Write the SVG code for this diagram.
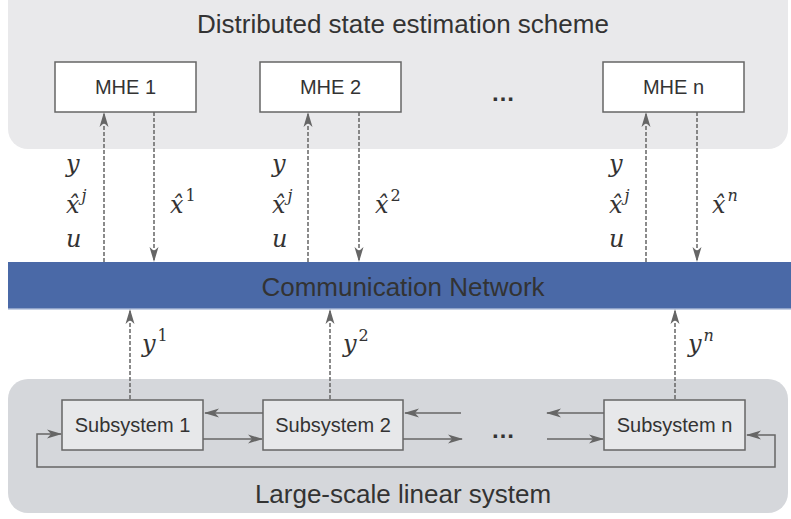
<svg xmlns="http://www.w3.org/2000/svg" width="791" height="519" viewBox="0 0 791 519">
<defs>
<style>
.panelTop{fill:#e9e9eb;}
.panelBot{fill:#d5d7db;}
.mhe{fill:#ffffff;stroke:#666666;stroke-width:1.5;}
.sub{fill:#e7e8ea;stroke:#666666;stroke-width:1.5;}
.big{font-family:"Liberation Sans",Arial,sans-serif;font-size:26px;fill:#333333;text-anchor:middle;}
.lbl{font-family:"Liberation Sans",Arial,sans-serif;font-size:20px;fill:#333333;text-anchor:middle;}
.dots{font-family:"Liberation Sans",Arial,sans-serif;font-size:24px;font-weight:bold;fill:#333333;text-anchor:middle;}
.math{font-family:"DejaVu Serif","Liberation Serif",serif;font-style:italic;font-size:24px;fill:#333333;}
.sup{font-size:16px;}
.supr{font-size:16px;font-style:normal;}
.dash{fill:none;stroke:#666666;stroke-width:1.5;stroke-dasharray:4 2;marker-end:url(#ah);}
.solid{fill:none;stroke:#666666;stroke-width:1.5;marker-end:url(#ah);}
</style>
<marker id="ah" markerUnits="userSpaceOnUse" viewBox="0 0 15 10" refX="14" refY="5" markerWidth="15" markerHeight="10" orient="auto">
<path d="M0,0.5 L15,5 L0,9.5 L4,5 z" fill="#666666"/>
</marker>
<marker id="ahs" markerUnits="userSpaceOnUse" viewBox="0 0 15 10" refX="14" refY="5" markerWidth="15" markerHeight="10" orient="auto-start-reverse">
<path d="M0,0.5 L15,5 L0,9.5 L4,5 z" fill="#666666"/>
</marker>
</defs>

<g id="panel-top">
<rect class="panelTop" x="8" y="-20" width="780" height="169" rx="20"/>
<text class="big" x="403" y="33">Distributed state estimation scheme</text>
</g>

<g id="panel-bottom">
<rect class="panelBot" x="8" y="379" width="780" height="134" rx="20"/>
<text class="big" x="403" y="503">Large-scale linear system</text>
</g>

<g id="network">
<rect x="8" y="262" width="783" height="47" fill="#4a69a7"/>
<rect x="8" y="308" width="783" height="1.5" fill="#8ea2c9"/>
<text class="big" x="403" y="296">Communication Network</text>
</g>

<g id="mhe1">
<rect class="mhe" x="55" y="62" width="141" height="50"/>
<text class="lbl" x="125.5" y="94">MHE 1</text>
</g>
<g id="mhe2">
<rect class="mhe" x="260" y="62" width="141" height="50"/>
<text class="lbl" x="330.5" y="94">MHE 2</text>
</g>
<g id="mhe-dots">
<text class="dots" x="503" y="101">…</text>
</g>
<g id="mhen">
<rect class="mhe" x="603" y="62" width="141" height="50"/>
<text class="lbl" x="673.5" y="94">MHE n</text>
</g>

<g id="sub1">
<rect class="sub" x="62" y="400" width="141" height="50"/>
<text class="lbl" x="132.5" y="432">Subsystem 1</text>
</g>
<g id="sub2">
<rect class="sub" x="263" y="400" width="140" height="50"/>
<text class="lbl" x="333" y="432">Subsystem 2</text>
</g>
<g id="sub-dots">
<text class="dots" x="503" y="438">…</text>
</g>
<g id="subn">
<rect class="sub" x="604" y="400" width="141" height="50"/>
<text class="lbl" x="674.5" y="432">Subsystem n</text>
</g>

<g id="connectors">
<path class="dash" d="M104,262 V113"/>
<path class="dash" d="M154,112 V261"/>
<path class="dash" d="M308,262 V113"/>
<path class="dash" d="M359,112 V261"/>
<path class="dash" d="M646,262 V113"/>
<path class="dash" d="M697,112 V261"/>
<path class="dash" d="M130,399 V310"/>
<path class="dash" d="M330,399 V310"/>
<path class="dash" d="M675,399 V310"/>
<path class="solid" d="M263,413 H205"/>
<path class="solid" d="M203,439 H262"/>
<path class="solid" d="M461,413 H405"/>
<path class="solid" d="M403,439 H462"/>
<path class="solid" d="M604,413 H547"/>
<path class="solid" d="M547,439 H603"/>
<path d="M61,434 H37 V467 H775 V435 H747" fill="none" stroke="#666666" stroke-width="1.5" marker-start="url(#ahs)" marker-end="url(#ah)"/>
</g>

<g id="labels">
<text class="math" x="66" y="172">y</text>
<text class="math" x="66" y="213">x̂<tspan class="sup" dx="2" dy="-12">j</tspan></text>
<text class="math" x="66" y="247">u</text>
<text class="math" x="170" y="213">x̂<tspan class="supr" dx="2" dy="-12">1</tspan></text>

<text class="math" x="272" y="172">y</text>
<text class="math" x="272" y="213">x̂<tspan class="sup" dx="2" dy="-12">j</tspan></text>
<text class="math" x="272" y="247">u</text>
<text class="math" x="375" y="213">x̂<tspan class="supr" dx="2" dy="-12">2</tspan></text>

<text class="math" x="609" y="172">y</text>
<text class="math" x="609" y="213">x̂<tspan class="sup" dx="2" dy="-12">j</tspan></text>
<text class="math" x="609" y="247">u</text>
<text class="math" x="712" y="213">x̂<tspan class="sup" dx="2" dy="-12">n</tspan></text>

<text class="math" x="142" y="352">y<tspan class="supr" dx="2" dy="-11">1</tspan></text>
<text class="math" x="343" y="352">y<tspan class="supr" dx="2" dy="-11">2</tspan></text>
<text class="math" x="688" y="352">y<tspan class="sup" dx="2" dy="-11">n</tspan></text>
</g>
</svg>
